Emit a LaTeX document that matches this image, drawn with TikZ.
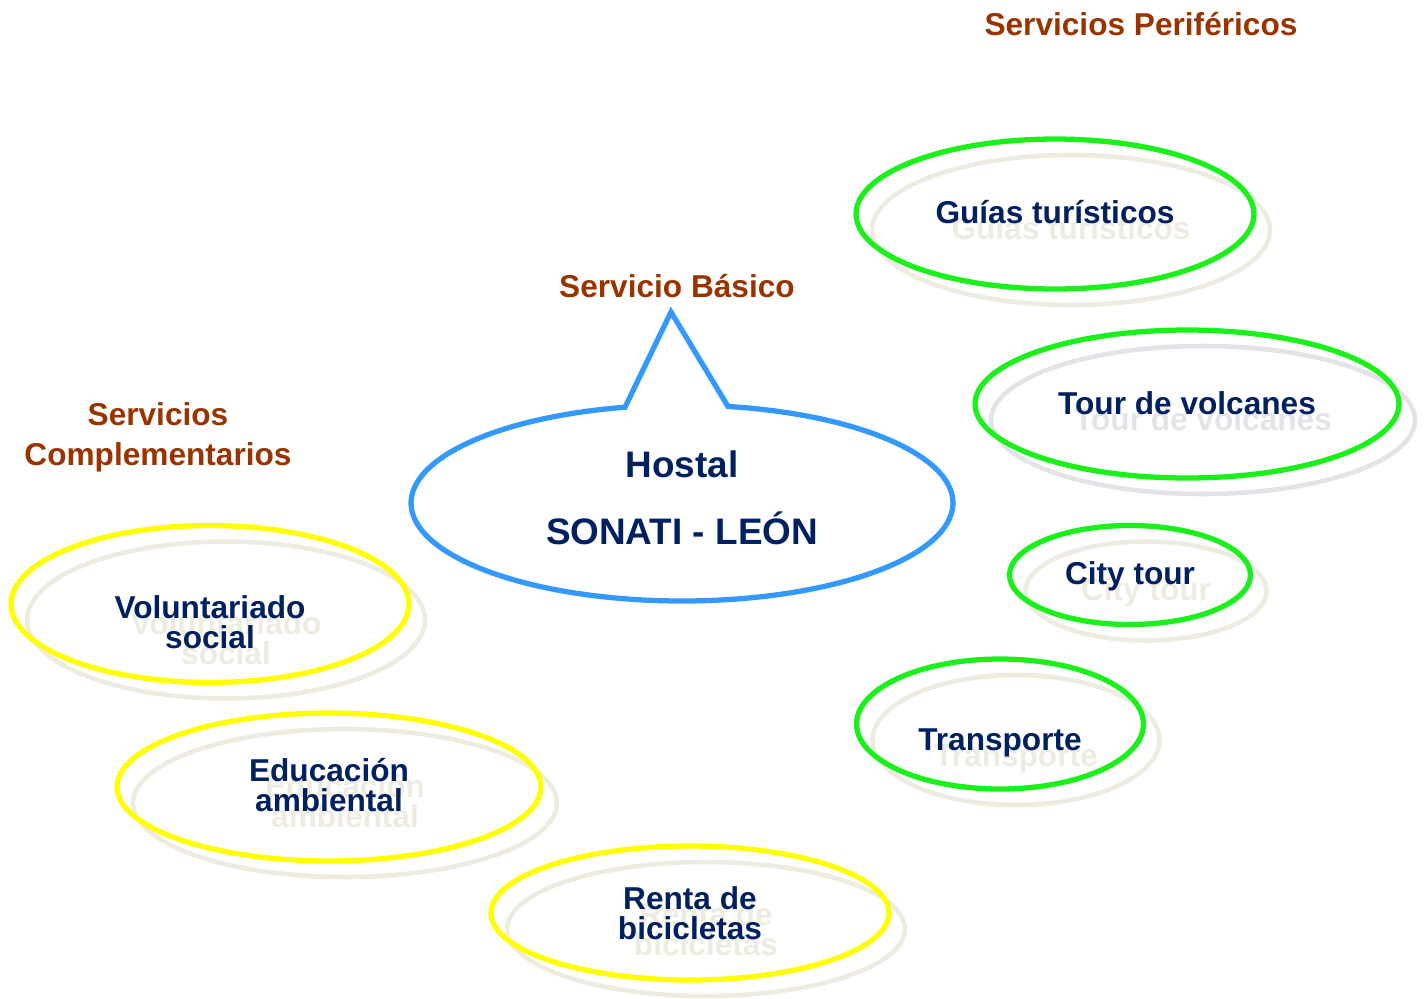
\documentclass[tikz,border=0pt]{standalone}
\usepackage{fontspec}
\setmainfont{Liberation Sans}
\usetikzlibrary{shapes.geometric}
\definecolor{navy}{RGB}{0,32,96}
\definecolor{brownt}{RGB}{153,51,0}
\definecolor{grn}{RGB}{26,240,26}
\definecolor{ylw}{RGB}{255,255,0}
\definecolor{blu}{RGB}{51,153,255}
\definecolor{shd}{RGB}{238,236,225}
\definecolor{shdg}{RGB}{228,228,232}
\tikzset{
  ell/.style={ellipse, line width=3pt, inner sep=0pt},
  shell/.style={ellipse, draw=#1, line width=2.6pt, inner sep=0pt},
  lbl/.style={text=navy, font=\bfseries\fontsize{18}{17}\selectfont, align=center, inner sep=0pt},
  shlbl/.style={text=#1, font=\bfseries\fontsize{18}{17}\selectfont, align=center, inner sep=0pt},
  ttl/.style={text=brownt, font=\bfseries\fontsize{18}{22.7}\selectfont, align=center, inner sep=0pt},
}
\begin{document}
\begin{tikzpicture}[x=0.02cm, y=-0.02cm]
\useasboundingbox (0,0) rectangle (1427,998);

% titles
\node[ttl, anchor=base] (tper) at (1141,35) {Servicios Periféricos};
\node[ttl, anchor=base] (tbas) at (677,297) {Servicio Básico};
\node[ttl] (tcom) at (158,437) {Servicios\\Complementarios};

% ---- Guías turísticos
\node[shell=shd, minimum width=7.96cm, minimum height=3.0cm] (sguias) at (1071,230) {};
\node[shlbl=shd, anchor=base] (stguias) at (1071,239) {Guías turísticos};
\node[ell, draw=grn, minimum width=7.96cm, minimum height=3.0cm] (guias) at (1055,214) {};
\node[lbl, anchor=base] (tguias) at (1055,223) {Guías turísticos};

% ---- Tour de volcanes
\node[shell=shdg, minimum width=8.48cm, minimum height=2.96cm] (svolc) at (1203,420) {};
\node[shlbl=shdg, anchor=base] (stvolc) at (1203,430) {Tour de volcanes};
\node[ell, draw=grn, minimum width=8.48cm, minimum height=2.96cm] (volc) at (1187,404) {};
\node[lbl, anchor=base] (tvolc) at (1187,414) {Tour de volcanes};

% ---- City tour
\node[shell=shd, minimum width=4.82cm, minimum height=1.98cm] (scity) at (1146,591) {};
\node[shlbl=shd, anchor=base] (stcity) at (1146,600) {City tour};
\node[ell, draw=grn, minimum width=4.82cm, minimum height=1.98cm] (city) at (1130,575) {};
\node[lbl, anchor=base] (tcity) at (1130,584) {City tour};

% ---- Transporte
\node[shell=shd, minimum width=5.74cm, minimum height=2.6cm] (strans) at (1016,740) {};
\node[shlbl=shd, anchor=base] (sttrans) at (1016,766) {Transporte};
\node[ell, draw=grn, minimum width=5.74cm, minimum height=2.6cm] (trans) at (1000,724) {};
\node[lbl, anchor=base] (ttrans) at (1000,750) {Transporte};

% ---- Voluntariado social
\node[shell=shd, minimum width=7.96cm, minimum height=3.14cm] (svol) at (226,620) {};
\node[shlbl=shd] (stvol) at (226,638) {Voluntariado\\social};
\node[ell, draw=ylw, minimum width=7.96cm, minimum height=3.14cm] (vol) at (210,604) {};
\node[lbl] (tvol) at (210,622) {Voluntariado\\social};

% ---- Educación ambiental
\node[shell=shd, minimum width=8.48cm, minimum height=2.96cm] (sedu) at (345,803) {};
\node[shlbl=shd] (stedu) at (345,801) {Educación\\ambiental};
\node[ell, draw=ylw, minimum width=8.48cm, minimum height=2.96cm] (edu) at (329,787) {};
\node[lbl] (tedu) at (329,785) {Educación\\ambiental};

% ---- Renta de bicicletas
\node[shell=shd, minimum width=7.96cm, minimum height=2.68cm] (sbici) at (706,929) {};
\node[shlbl=shd] (stbici) at (706,929) {Renta de\\bicicletas};
\node[ell, draw=ylw, minimum width=7.96cm, minimum height=2.68cm] (bici) at (690,913) {};
\node[lbl] (tbici) at (690,913) {Renta de\\bicicletas};

% ---- Hostal callout
\coordinate (hc) at (682,503);
\coordinate (tip) at (671,312);
\draw[blu, line width=3pt, line join=miter]
  (hc) ++(80.23:5.42cm and 1.96cm)
  arc[start angle=80.23, end angle=-257.86, x radius=5.42cm, y radius=1.96cm]
  -- (tip) -- cycle;
\node[text=navy, font=\bfseries\fontsize{21}{38}\selectfont, align=center, inner sep=0pt] (host) at (682,498) {Hostal\\SONATI - LEÓN};
\end{tikzpicture}
\end{document}
